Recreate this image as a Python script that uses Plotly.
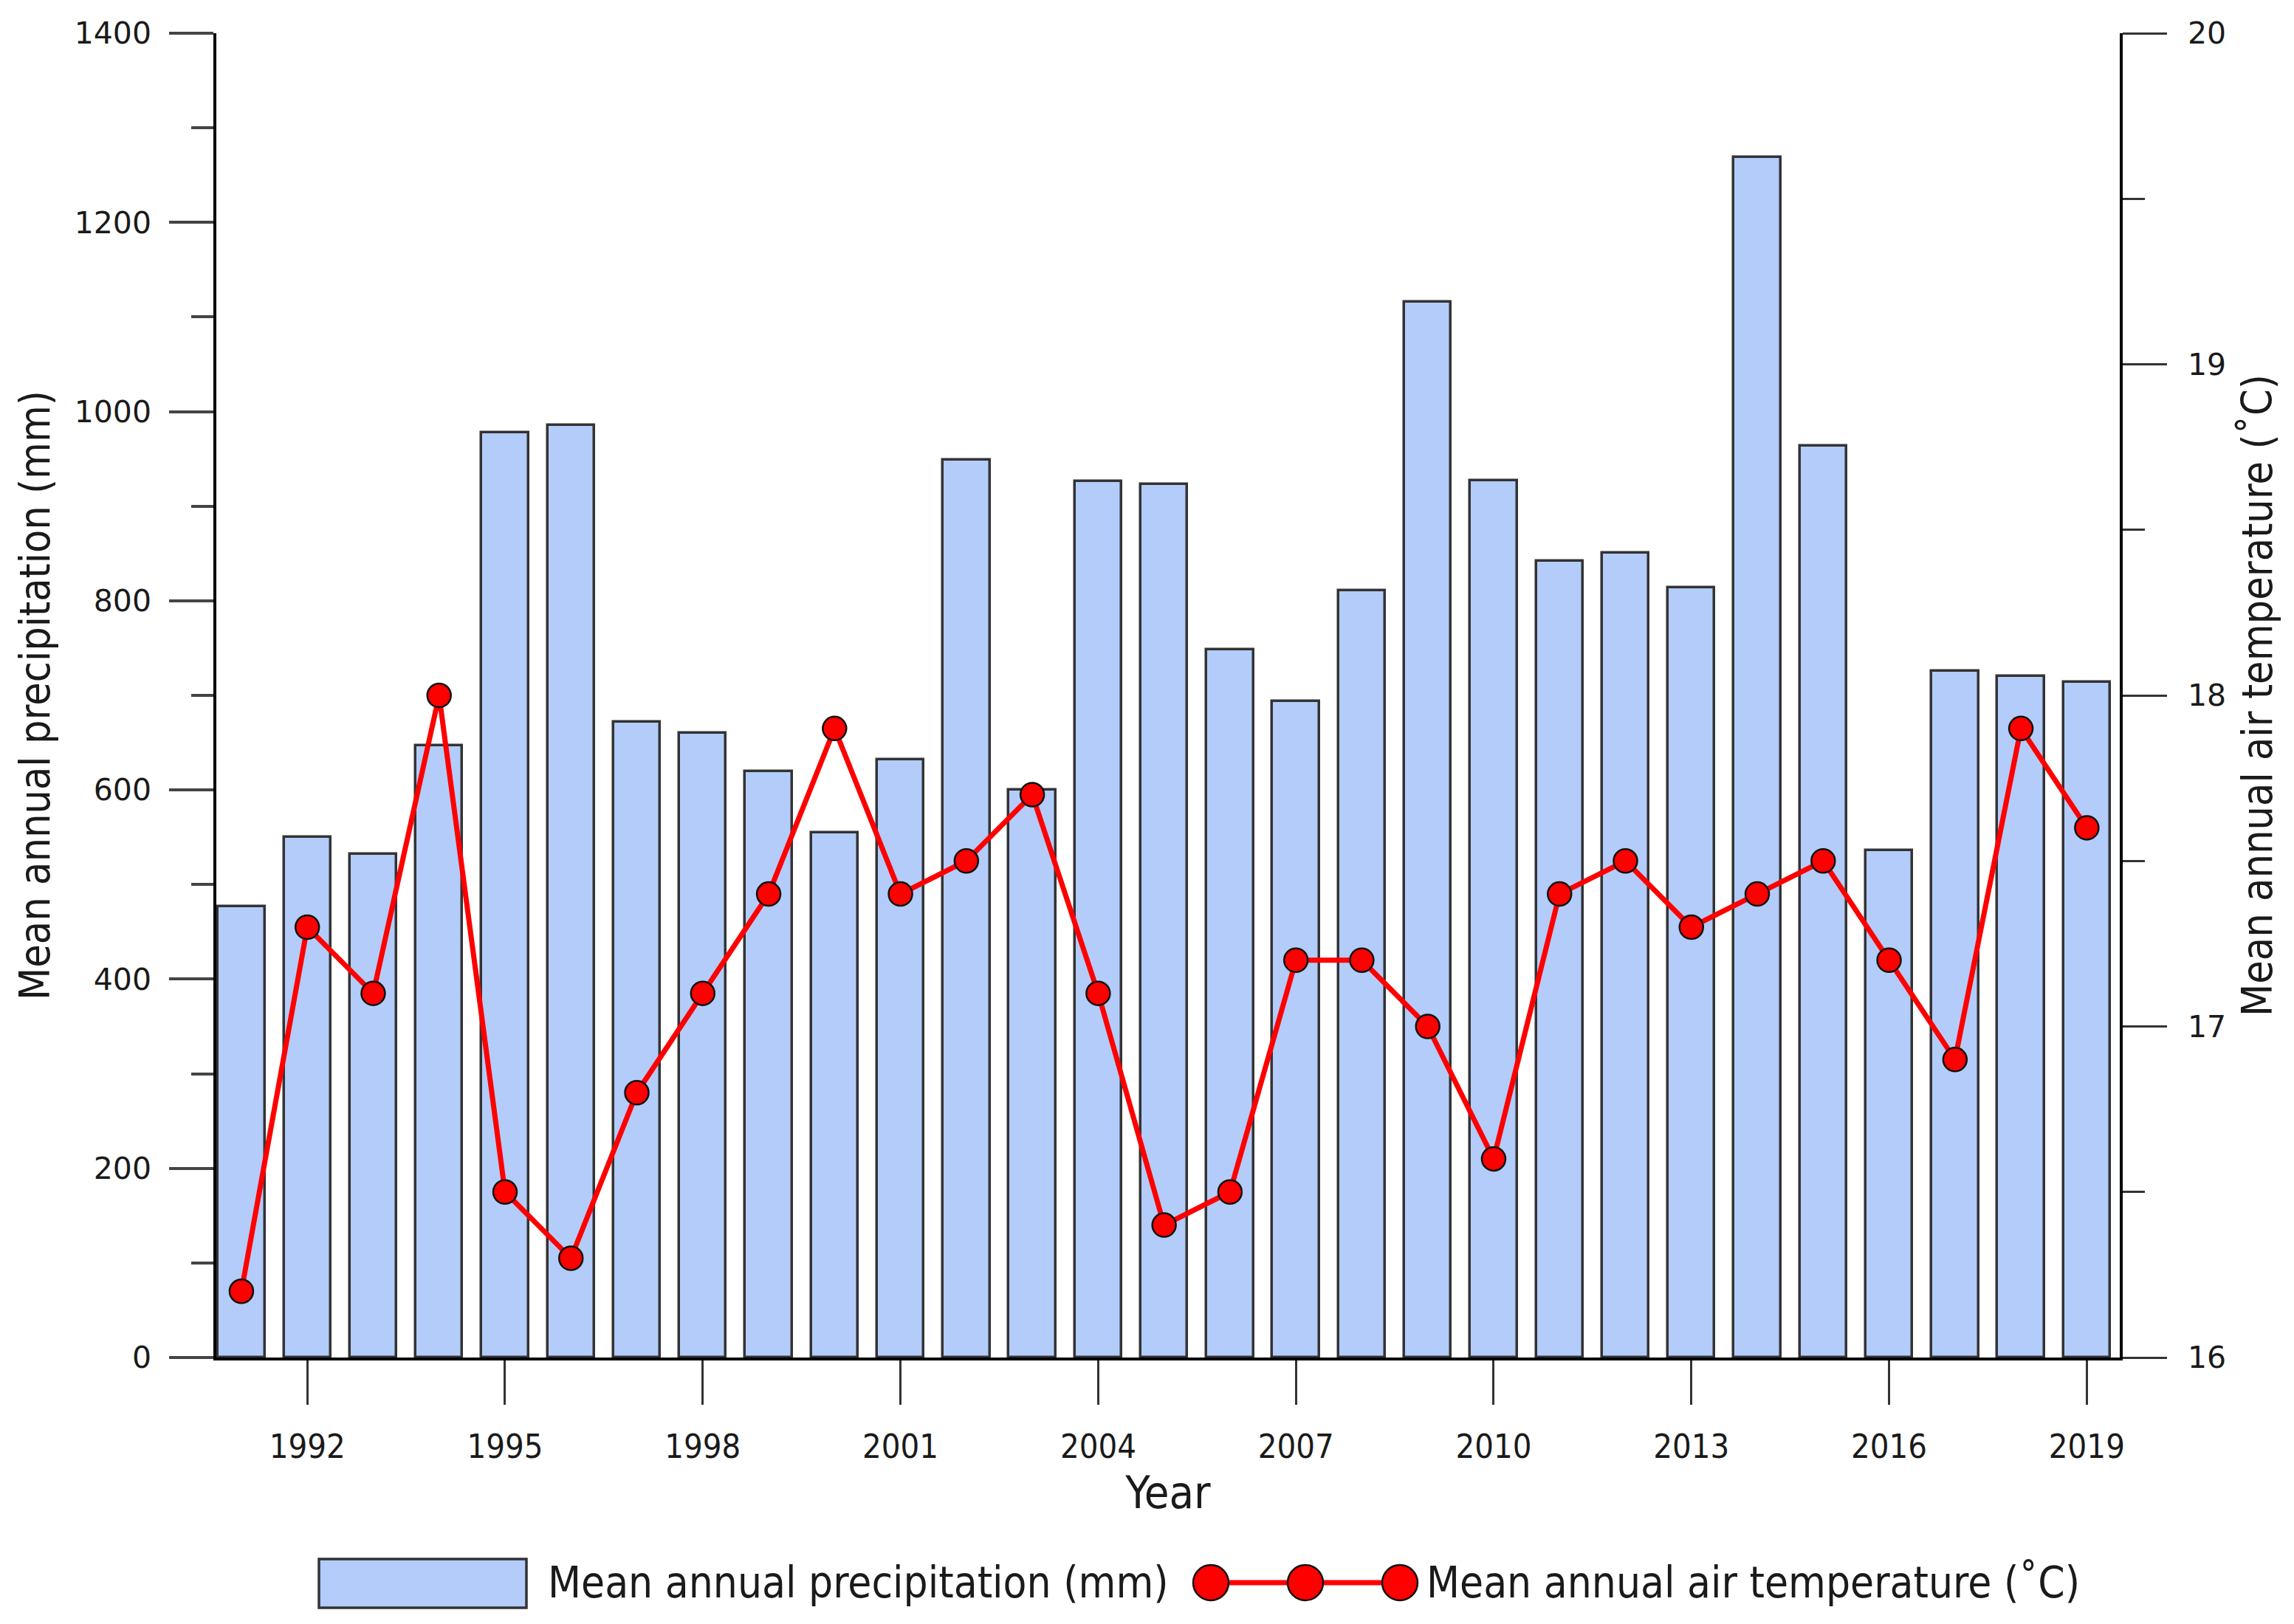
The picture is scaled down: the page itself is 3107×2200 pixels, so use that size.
import plotly.graph_objects as go

years = list(range(1991, 2020))
precip_mm = [477, 550, 532, 647, 978, 986, 672, 660, 620, 555,
             632, 949, 600, 926, 923, 748, 694, 811, 1116, 927,
             842, 851, 814, 1269, 964, 536, 726, 720, 714]
temp_c = [16.2, 17.3, 17.1, 18.0, 16.5, 16.3, 16.8, 17.1, 17.4, 17.9,
          17.4, 17.5, 17.7, 17.1, 16.4, 16.5, 17.2, 17.2, 17.0, 16.6,
          17.4, 17.5, 17.3, 17.4, 17.5, 17.2, 16.9, 17.9, 17.6]
x_ticks = list(range(1992, 2020, 3))
precip_label = "Mean annual precipitation (mm)"
temp_label = "Mean annual air temperature (˚C)"

OFF = 8  # browser body margin
W, H = 3107 - 2 * OFF, 2200 - 2 * OFF
# plot area in page pixels
L, R, T, B = 293, 2871, 45, 1839
PW, PH = R - L, B - T

BAR_FILL = "#B3CCFA"
BAR_LINE = "#333333"
RED = "#FF0000"
FONT = "DejaVu Sans"
FONT_C = "DejaVu Sans Condensed"
TXT = "#1a1a1a"

def px(xp):
    return (xp - L) / PW

def py(yp):
    return (B - yp) / PH

fig = go.Figure()
fig.add_trace(go.Bar(
    x=years, y=precip_mm, width=0.71, name=precip_label,
    marker=dict(color=BAR_FILL, line=dict(color=BAR_LINE, width=3.5)),
    showlegend=False,
))
fig.add_trace(go.Scatter(
    x=years, y=temp_c, yaxis="y2", mode="lines+markers", name=temp_label,
    line=dict(color=RED, width=7),
    marker=dict(color=RED, size=32, line=dict(color="#111111", width=2.5)),
    showlegend=False,
))

fig.update_layout(
    width=W, height=H,
    margin=dict(l=L - OFF, r=(W + OFF) - R, t=T - OFF, b=(H + OFF) - B, autoexpand=False),
    paper_bgcolor="white", plot_bgcolor="white",
    font=dict(family=FONT, color=TXT, size=40),
    bargap=0,
    xaxis=dict(
        range=[1990.62, 2019.5], tickmode="array", tickvals=x_ticks,
        ticks="outside", ticklen=60, tickwidth=2.5, tickcolor="#333333",
        showline=True, linecolor="black", linewidth=3.5,
        showgrid=False, zeroline=False,
        tickfont=dict(family=FONT_C, size=45, color=TXT),
        ticklabelstandoff=18,
        title=dict(text="Year", font=dict(family=FONT_C, size=61, color=TXT), standoff=4),
        automargin=False,
    ),
    yaxis=dict(
        range=[0, 1400], tickmode="linear", tick0=0, dtick=200,
        ticks="outside", ticklen=60, tickwidth=3.5, tickcolor="#444444",
        minor=dict(ticks="outside", ticklen=30, tickwidth=3.5, tickcolor="#444444", dtick=100, tick0=0),
        showline=True, linecolor="black", linewidth=3.5,
        showgrid=False, zeroline=False,
        tickfont=dict(family=FONT, size=41, color=TXT),
        ticklabelstandoff=16,
        title=dict(text=precip_label, font=dict(family=FONT_C, size=57, color=TXT), standoff=16),
        automargin=False,
    ),
    yaxis2=dict(
        range=[16, 20], overlaying="y", side="right", tickmode="linear", tick0=16, dtick=1,
        ticks="outside", ticklen=60, tickwidth=3, tickcolor="#333333",
        minor=dict(ticks="outside", ticklen=30, tickwidth=3, tickcolor="#333333", dtick=0.5, tick0=16),
        showline=True, linecolor="black", linewidth=3.5,
        showgrid=False, zeroline=False,
        tickfont=dict(family=FONT, size=41, color=TXT),
        ticklabelstandoff=20,
        title=dict(text=temp_label, font=dict(family=FONT_C, size=57, color=TXT), standoff=24),
        automargin=False,
    ),
)

# Custom legend (large swatches as in reference), positions in page pixels
LEG_Y = 2144
shapes = []
shapes.append(dict(type="rect", xref="paper", yref="paper",
                   x0=px(432), x1=px(713), y0=py(2178), y1=py(2112),
                   fillcolor=BAR_FILL, line=dict(color=BAR_LINE, width=3.5)))
shapes.append(dict(type="line", xref="paper", yref="paper",
                   x0=px(1625), x1=px(1905), y0=py(LEG_Y), y1=py(LEG_Y),
                   line=dict(color=RED, width=7)))
for cx in (1640, 1768, 1896):
    r = 24
    shapes.append(dict(type="circle", xref="paper", yref="paper",
                       x0=px(cx - r), x1=px(cx + r), y0=py(LEG_Y + r), y1=py(LEG_Y - r),
                       fillcolor=RED, line=dict(color="#111111", width=2.5)))
fig.update_layout(shapes=shapes)
fig.add_annotation(x=px(740), y=py(LEG_Y), xref="paper", yref="paper", text=precip_label,
                   showarrow=False, xanchor="left", yanchor="middle",
                   font=dict(family=FONT_C, size=58, color=TXT))
fig.add_annotation(x=px(1930), y=py(LEG_Y), xref="paper", yref="paper", text=temp_label,
                   showarrow=False, xanchor="left", yanchor="middle",
                   font=dict(family=FONT_C, size=58, color=TXT))

fig.write_html("out.html")
